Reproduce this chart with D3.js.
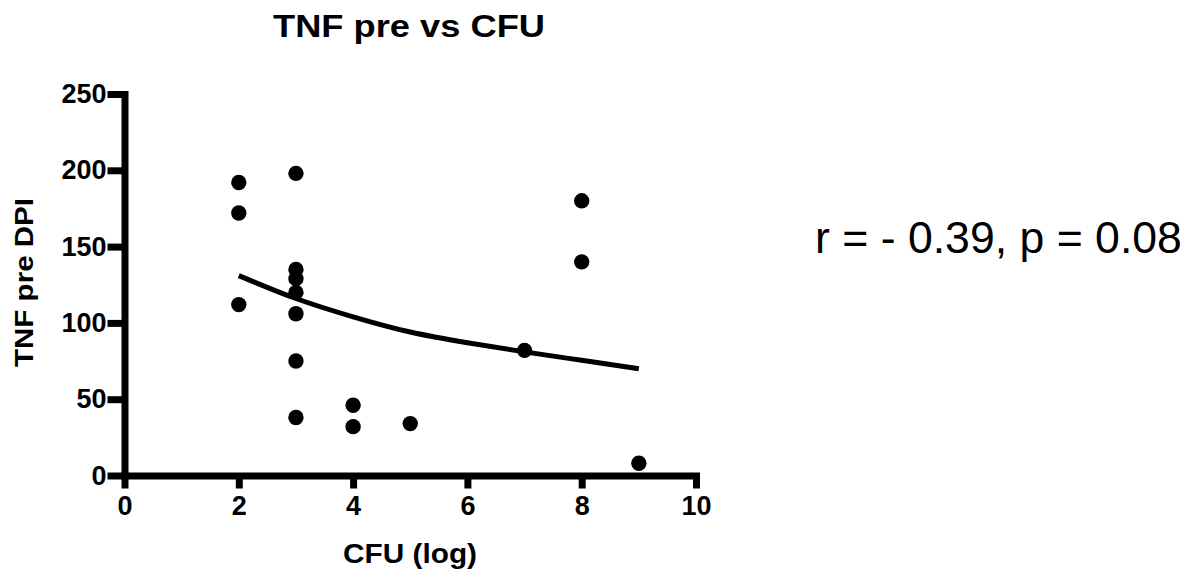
<!DOCTYPE html>
<html>
<head>
<meta charset="utf-8">
<script src="https://cdn.jsdelivr.net/npm/d3@7"></script>
<style>
  body { margin: 0; background: #fff; }
  text { font-family: "Liberation Sans", Arial, sans-serif; fill: #000; }
</style>
</head>
<body>
<svg id="chart" width="1193" height="579"></svg>
<script>
// CFU (log) vs TNF pre DPI
var cfu = [2, 2, 2, 3, 3, 3, 3, 3, 3, 3, 4, 4, 5, 7, 8, 8, 9];
var tnf = [192, 172, 112, 198, 135, 129, 120, 106, 75, 38, 46, 32, 34, 82, 180, 140, 8];

// fitted curve
var fitX = [2, 3, 4, 5, 6, 7, 8, 9];
var fitY = [131, 116, 104, 94, 87, 81, 75.5, 70];

var xTicks = [0, 2, 4, 6, 8, 10];
var yTicks = [0, 50, 100, 150, 200, 250];

var svg = d3.select("#chart");

var x = d3.scaleLinear().domain([0, 10]).range([124.5, 696]);
var y = d3.scaleLinear().domain([0, 250]).range([475.5, 94]);

// x axis
var gx = svg.append("g")
  .attr("transform", "translate(0," + y(0) + ")")
  .call(d3.axisBottom(x).tickValues(xTicks).tickFormat(d3.format("d"))
    .tickSize(13).tickSizeOuter(0).tickPadding(7));

// y axis
var gy = svg.append("g")
  .attr("transform", "translate(" + x(0) + ",0)")
  .call(d3.axisLeft(y).tickValues(yTicks).tickFormat(d3.format("d"))
    .tickSize(17).tickSizeOuter(0).tickPadding(1));

[gx, gy].forEach(function(g) {
  g.select(".domain").attr("stroke", "#000").attr("stroke-width", 7)
    .attr("stroke-linecap", "square");
  g.selectAll(".tick line").attr("stroke", "#000").attr("stroke-width", 7);
  g.selectAll(".tick text")
    .attr("font-family", "Liberation Sans, Arial, sans-serif")
    .attr("font-weight", "bold")
    .attr("font-size", 27)
    .attr("fill", "#000");
});

// fit line
var line = d3.line()
  .x(function(d, i) { return x(fitX[i]); })
  .y(function(d) { return y(d); })
  .curve(d3.curveNatural);

svg.append("path")
  .datum(fitY)
  .attr("d", line)
  .attr("fill", "none")
  .attr("stroke", "#000")
  .attr("stroke-width", 5);

// points
svg.append("g").selectAll("circle")
  .data(cfu)
  .enter().append("circle")
  .attr("cx", function(d) { return x(d); })
  .attr("cy", function(d, i) { return y(tnf[i]); })
  .attr("r", 7.7)
  .attr("fill", "#000");

// titles
svg.append("text")
  .attr("x", 409).attr("y", 37)
  .attr("text-anchor", "middle")
  .attr("font-weight", "bold").attr("font-size", 32)
  .attr("textLength", 272).attr("lengthAdjust", "spacingAndGlyphs")
  .text("TNF pre vs CFU");

svg.append("text")
  .attr("x", 410).attr("y", 563)
  .attr("text-anchor", "middle")
  .attr("font-weight", "bold").attr("font-size", 28)
  .attr("textLength", 134).attr("lengthAdjust", "spacingAndGlyphs")
  .text("CFU (log)");

svg.append("text")
  .attr("transform", "translate(33,282.5) rotate(-90)")
  .attr("text-anchor", "middle")
  .attr("font-weight", "bold").attr("font-size", 25)
  .attr("textLength", 169).attr("lengthAdjust", "spacingAndGlyphs")
  .text("TNF pre DPI");

svg.append("text")
  .attr("x", 815).attr("y", 253)
  .attr("font-size", 44.6)
  .text("r = - 0.39, p = 0.08");
</script>
</body>
</html>
